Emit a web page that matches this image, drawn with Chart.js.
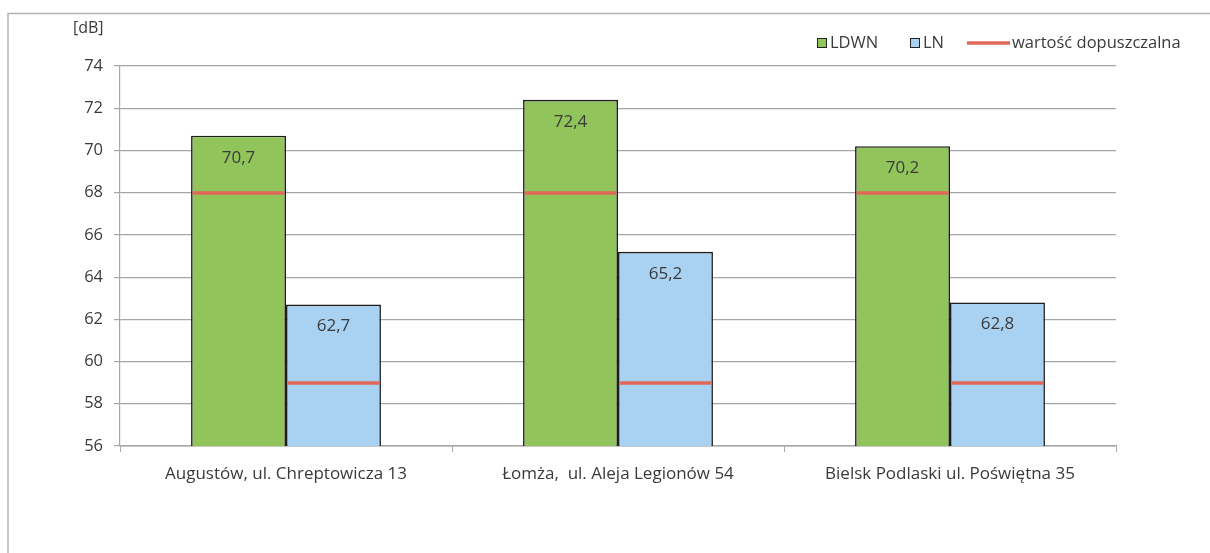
<!DOCTYPE html>
<html>
<head>
<meta charset="utf-8">
<script src="https://cdn.jsdelivr.net/npm/chart.js@4/dist/chart.umd.min.js"></script>
<style>
  html, body { margin: 0; padding: 0; background: #fff; }
  #wrap { position: relative; width: 1210px; height: 553px; }
</style>
</head>
<body>
<div id="wrap"><canvas id="noise-chart" width="1210" height="553"></canvas></div>
<script>
const locations = ['Augustów, ul. Chreptowicza 13', 'Łomża,  ul. Aleja Legionów 54', 'Bielsk Podlaski ul. Poświętna 35'];
const ldwnValues = [70.7, 72.4, 70.2];
const lnValues = [62.7, 65.2, 62.8];
// permitted level for each indicator
const limitValues = [68, 59];
const limitLabel = 'wartość dopuszczalna';

const FONT = '"Open Sans", "Noto Sans", sans-serif';
const TEXT = '#3a3a3a';
const GRID = '#a6a6a6';
const LIMIT_RED = '#e0695a';

const frame = {
  id: 'frame',
  beforeDraw(chart) {
    const c = chart.ctx;
    c.save();
    c.fillStyle = '#fff';
    c.fillRect(0, 0, chart.width, chart.height);
    c.strokeStyle = '#b4b4b4';
    c.lineWidth = 1.5;
    c.beginPath();
    c.moveTo(8, chart.height);
    c.lineTo(8, 13.5);
    c.lineTo(chart.width, 13.5);
    c.stroke();
    // unit label above the y axis
    c.fillStyle = TEXT;
    c.font = '16px ' + FONT;
    c.textAlign = 'left';
    c.textBaseline = 'middle';
    c.fillText('[dB]', 73, 28);
    c.restore();
  }
};

const limitsAndLabels = {
  id: 'limitsAndLabels',
  afterDatasetsDraw(chart) {
    const c = chart.ctx;
    const y = chart.scales.y;
    c.save();
    chart.data.datasets.forEach((ds, i) => {
      const meta = chart.getDatasetMeta(i);
      const ly = Math.round(y.getPixelForValue(limitValues[i]));
      meta.data.forEach((bar, j) => {
        const half = bar.width / 2;
        c.strokeStyle = LIMIT_RED;
        c.lineWidth = 3.5;
        c.beginPath();
        c.moveTo(bar.x - half + 1.5, ly);
        c.lineTo(bar.x + half - 1.5, ly);
        c.stroke();
        c.fillStyle = TEXT;
        c.font = '17px ' + FONT;
        c.textAlign = 'center';
        c.textBaseline = 'middle';
        c.fillText(ds.data[j].toFixed(1).replace('.', ','), bar.x, bar.y + 22);
      });
    });
    c.restore();
  }
};

const legendBox = {
  id: 'legendBox',
  afterDraw(chart) {
    const c = chart.ctx;
    c.save();
    c.font = '16.5px ' + FONT;
    c.textBaseline = 'middle';
    c.textAlign = 'left';
    const ly = 43;
    let x = 817;
    chart.data.datasets.forEach(ds => {
      c.fillStyle = ds.backgroundColor;
      c.fillRect(x, ly - 4.5, 9, 9);
      c.strokeStyle = '#222';
      c.lineWidth = 1;
      c.strokeRect(x + 0.5, ly - 4.5, 9, 9);
      c.fillStyle = TEXT;
      c.fillText(ds.label, x + 13, ly);
      x += 93;
    });
    c.strokeStyle = LIMIT_RED;
    c.lineWidth = 3.5;
    c.beginPath();
    c.moveTo(967, ly);
    c.lineTo(1010, ly);
    c.stroke();
    c.fillStyle = TEXT;
    c.fillText(limitLabel, 1012, ly);
    c.restore();
  }
};

new Chart(document.getElementById('noise-chart'), {
  type: 'bar',
  data: {
    labels: locations,
    datasets: [
      {
        label: 'LDWN',
        data: ldwnValues,
        backgroundColor: '#92c45c',
        borderColor: '#1e1e1e',
        borderWidth: 1.6
      },
      {
        label: 'LN',
        data: lnValues,
        backgroundColor: '#a9d1f1',
        borderColor: '#1e1e1e',
        borderWidth: 1.6
      }
    ]
  },
  options: {
    responsive: false,
    animation: false,
    events: [],
    layout: { padding: { left: 20, right: 94, top: 66, bottom: 20 } },
    datasets: {
      bar: { categoryPercentage: 0.572, barPercentage: 1.0 }
    },
    plugins: {
      legend: { display: false },
      tooltip: { enabled: false }
    },
    scales: {
      x: {
        grid: {
          offset: true,
          drawOnChartArea: false,
          drawTicks: true,
          tickLength: 6,
          color: GRID
        },
        border: { color: GRID, width: 1.5 },
        ticks: {
          color: TEXT,
          font: { family: FONT, size: 17 },
          padding: 12,
          maxRotation: 0
        },
        afterFit(scale) { scale.height = 87; }
      },
      y: {
        min: 56,
        max: 74,
        ticks: {
          stepSize: 2,
          color: TEXT,
          font: { family: FONT, size: 16.5 },
          padding: 11
        },
        grid: { color: GRID, lineWidth: 1.2, tickLength: 6 },
        border: { color: GRID, width: 1.2 },
        afterFit(scale) { scale.width = 100; }
      }
    }
  },
  plugins: [frame, limitsAndLabels, legendBox]
});
</script>
</body>
</html>
